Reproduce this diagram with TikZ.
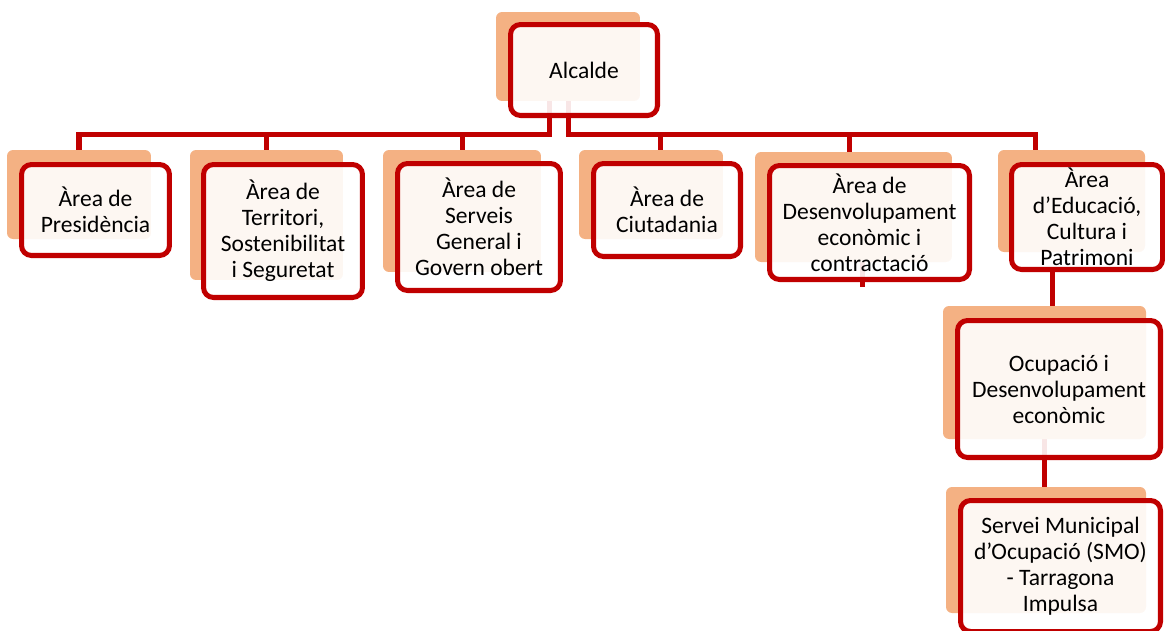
\documentclass[tikz,border=0pt]{standalone}
\usepackage{fontspec}
\setmainfont{Carlito}
\usepackage{tikz}
\usetikzlibrary{positioning, backgrounds}

\definecolor{boxred}{HTML}{C00000}
\definecolor{boxback}{HTML}{F4B183}

\begin{document}
\begin{tikzpicture}[x=0.02cm, y=-0.02cm,
  unit/.style={draw=boxred, line width=2.85pt, rounded corners=0.2cm, fill=white,
    fill opacity=0.9, text opacity=1, align=center, inner sep=0pt,
    font=\fontsize{13.4}{14.8}\selectfont},
  backbox/.style={fill=boxback, rounded corners=0.12cm, inner sep=0pt},
  link/.style={draw=boxred, line width=2.85pt}]
\clip (0,0) rectangle (1165,630);

% Back boxes
\node[backbox, minimum width=2.88cm, minimum height=1.78cm] (alc-bg) at (568,56.5) {};
\node[backbox, minimum width=2.88cm, minimum height=1.78cm] (pres-bg) at (79,194.5) {};
\node[backbox, minimum width=3.06cm, minimum height=2.60cm] (terr-bg) at (266.5,215) {};
\node[backbox, minimum width=3.16cm, minimum height=2.44cm] (serv-bg) at (462,211) {};
\node[backbox, minimum width=2.88cm, minimum height=1.78cm] (ciut-bg) at (651,194.5) {};
\node[backbox, minimum width=3.94cm, minimum height=2.20cm] (desenv-bg) at (853.5,207) {};
\node[backbox, minimum width=2.94cm, minimum height=2.04cm] (educ-bg) at (1071.5,201) {};
\node[backbox, minimum width=4.06cm, minimum height=2.66cm] (ocup-bg) at (1044.5,372.5) {};
\node[backbox, minimum width=4.00cm, minimum height=2.52cm] (smo-bg) at (1046,550) {};

% Units
\node[unit, minimum width=2.94cm, minimum height=1.82cm] (alc) at (584,70) {Alcalde};
\node[unit, minimum width=2.96cm, minimum height=1.82cm] (pres) at (95.5,210) {Àrea de\\Presidència};
\node[unit, minimum width=3.18cm, minimum height=2.66cm] (terr) at (283,231) {Àrea de\\Territori,\\Sostenibilitat\\i Seguretat};
\node[unit, minimum width=3.26cm, minimum height=2.54cm] (serv) at (479,227) {Àrea de\\Serveis\\General i\\Govern obert};
\node[unit, minimum width=2.94cm, minimum height=1.86cm] (ciut) at (667,210) {Àrea de\\Ciutadania};
\node[unit, minimum width=4.00cm, minimum height=2.28cm] (desenv) at (869.5,222.5) {Àrea de\\Desenvolupament\\econòmic i\\contractació};
\node[unit, minimum width=3.02cm, minimum height=2.10cm] (educ) at (1087,217) {Àrea\\d’Educació,\\Cultura i\\Patrimoni};
\node[unit, minimum width=4.06cm, minimum height=2.74cm] (ocup) at (1059,389) {Ocupació i\\Desenvolupament\\econòmic};
\node[unit, minimum width=4.00cm, minimum height=2.62cm] (smo) at (1060.5,566) {Servei Municipal\\d’Ocupació (SMO)\\- Tarragona\\Impulsa};

% Connectors
\coordinate (bar) at (0,134);
\coordinate (jl) at ([xshift=-0.38cm]alc-bg.south);
\coordinate (jr) at (alc-bg.south);
\coordinate (eo) at (1052,0);
\coordinate (ds) at (862,287);
\begin{scope}[on background layer]
\draw[link] (jl) -- (jl |- bar) -| (pres-bg.north);
\draw[link] (jl |- bar) -| (terr-bg.north);
\draw[link] (jl |- bar) -| (serv-bg.north);
\draw[link] (jr) -- (jr |- bar) -| ([xshift=0.18cm]ciut-bg.north);
\draw[link] (jr |- bar) -| ([xshift=-0.09cm]desenv-bg.north);
\draw[link] (jr |- bar) -| ([xshift=-0.73cm]educ-bg.north);
\draw[link] (desenv-bg.south -| ds) -- (ds);
\draw[link] (educ.south -| eo) -- (ocup-bg.north -| eo);
\draw[link] (ocup-bg.south) -- (ocup-bg.south |- smo-bg.north);
\end{scope}
\end{tikzpicture}
\end{document}
